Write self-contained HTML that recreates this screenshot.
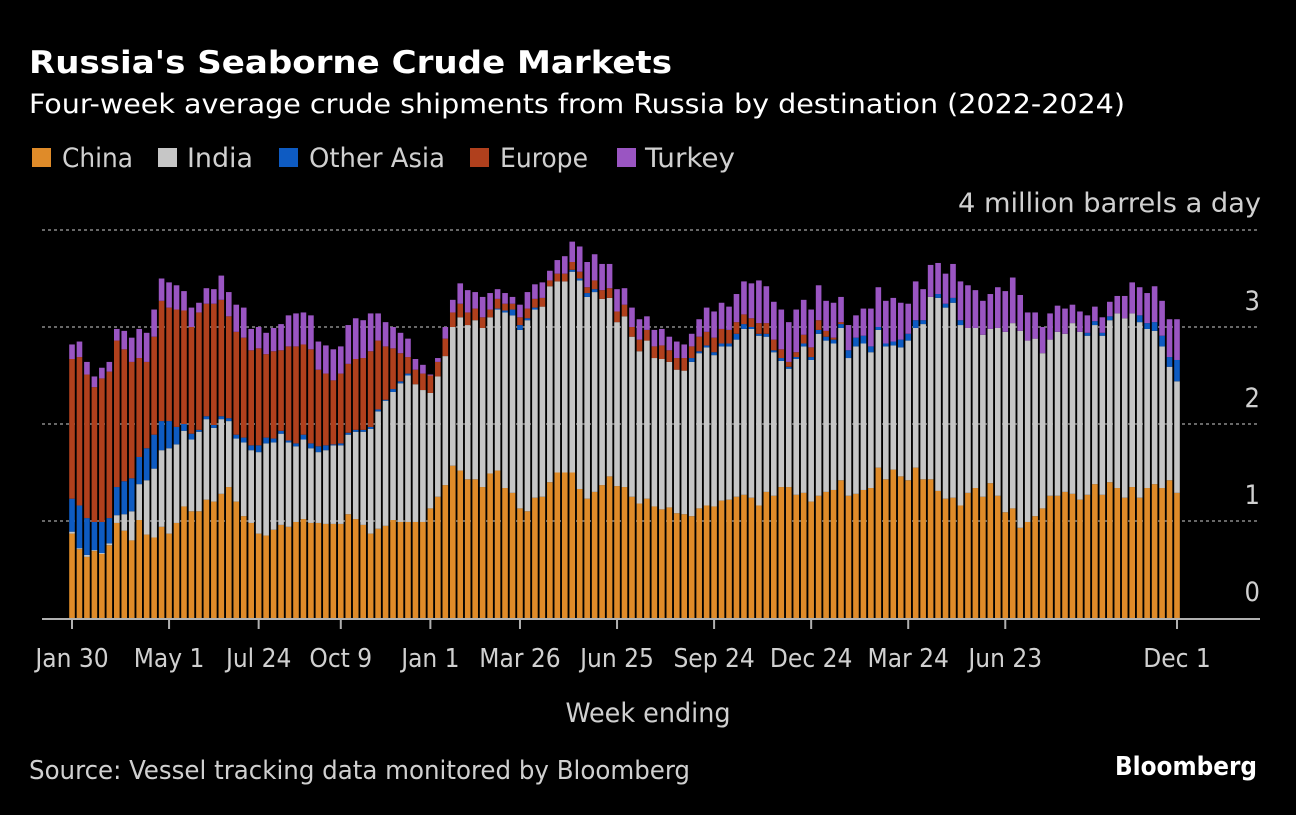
<!DOCTYPE html>
<html><head><meta charset="utf-8">
<style>
html,body{margin:0;padding:0;background:#000;}
body{width:1296px;height:810px;overflow:hidden;color:#fff;}
svg text{font-family:"DejaVu Sans Condensed","DejaVu Sans","Liberation Sans",sans-serif;font-stretch:condensed;}
</style></head>
<body>
<svg id="chart" width="1296" height="810" viewBox="0 0 1296 810">
<rect x="0" y="0" width="1296" height="810" fill="#000"/>
<text x="29" y="73" font-size="31" font-weight="bold" fill="#fff" textLength="643" lengthAdjust="spacingAndGlyphs">Russia's Seaborne Crude Markets</text>
<text x="29" y="113" font-size="27" fill="#fff" textLength="1096" lengthAdjust="spacingAndGlyphs">Four-week average crude shipments from Russia by destination (2022-2024)</text>
<g id="legend"></g>
<text x="1261" y="212" font-size="27" fill="#d0d0d0" text-anchor="end" textLength="303" lengthAdjust="spacingAndGlyphs">4 million barrels a day</text>
<g id="grid"></g>
<g id="bars"></g>
<g id="xaxis"></g>
<text x="648" y="722" font-size="27" fill="#d0d0d0" text-anchor="middle" textLength="165" lengthAdjust="spacingAndGlyphs">Week ending</text>
<text x="29" y="779" font-size="26" fill="#d0d0d0" textLength="661" lengthAdjust="spacingAndGlyphs">Source: Vessel tracking data monitored by Bloomberg</text>
<text x="1257" y="775" font-size="26" font-weight="bold" fill="#fff" text-anchor="end" textLength="142" lengthAdjust="spacingAndGlyphs">Bloomberg</text>
</svg>
<script>
const seriesNames = ["China","India","Other Asia","Europe","Turkey"];
const seriesColors = ["#df8b29","#c6c6c6","#0e5bc2","#b0401d","#9a55c2"];
const china = [0.87,0.71,0.63,0.69,0.66,0.75,0.98,0.90,0.80,1.01,0.86,0.83,0.94,0.87,0.98,1.15,1.10,1.10,1.22,1.20,1.28,1.35,1.20,1.05,0.98,0.87,0.85,0.91,0.96,0.94,0.99,1.02,0.98,0.98,0.97,0.97,0.97,1.07,1.02,0.96,0.87,0.92,0.95,1.01,0.99,0.99,0.99,0.99,1.13,1.25,1.37,1.57,1.52,1.43,1.43,1.35,1.49,1.52,1.34,1.29,1.13,1.10,1.24,1.25,1.40,1.50,1.50,1.50,1.33,1.23,1.30,1.37,1.46,1.36,1.35,1.25,1.18,1.23,1.15,1.12,1.14,1.08,1.07,1.05,1.13,1.16,1.15,1.21,1.22,1.25,1.27,1.24,1.16,1.30,1.26,1.35,1.35,1.27,1.29,1.20,1.26,1.30,1.32,1.42,1.26,1.28,1.32,1.34,1.55,1.43,1.53,1.46,1.42,1.55,1.43,1.43,1.31,1.23,1.24,1.16,1.29,1.34,1.25,1.39,1.26,1.09,1.13,0.93,0.99,1.05,1.13,1.26,1.26,1.30,1.28,1.22,1.27,1.38,1.27,1.40,1.34,1.24,1.35,1.24,1.34,1.38,1.34,1.42,1.29];
const india = [0.02,0.01,0.02,0.01,0.01,0.02,0.08,0.17,0.30,0.37,0.56,0.71,0.79,0.88,0.81,0.78,0.74,0.82,0.83,0.76,0.77,0.68,0.65,0.76,0.75,0.84,0.95,0.90,0.94,0.87,0.78,0.82,0.77,0.73,0.76,0.81,0.81,0.82,0.90,0.96,1.08,1.21,1.29,1.32,1.43,1.51,1.42,1.36,1.19,1.24,1.33,1.43,1.58,1.59,1.64,1.64,1.61,1.66,1.81,1.83,1.84,1.97,1.94,1.96,2.02,1.97,1.97,2.07,2.15,2.08,2.06,1.92,1.84,1.69,1.76,1.65,1.57,1.63,1.53,1.55,1.50,1.48,1.48,1.59,1.60,1.63,1.56,1.59,1.58,1.62,1.71,1.74,1.75,1.60,1.48,1.30,1.22,1.40,1.51,1.46,1.67,1.56,1.51,1.57,1.42,1.52,1.51,1.40,1.42,1.37,1.28,1.33,1.44,1.44,1.60,1.88,1.99,1.97,2.01,1.86,1.70,1.65,1.67,1.59,1.73,1.86,1.91,2.03,1.87,1.83,1.60,1.61,1.69,1.63,1.76,1.73,1.64,1.64,1.64,1.67,1.80,1.85,1.79,1.81,1.64,1.58,1.46,1.17,1.15];
const otherAsia = [0.34,0.44,0.38,0.29,0.32,0.26,0.29,0.34,0.34,0.28,0.33,0.35,0.30,0.28,0.18,0.07,0.06,0.02,0.03,0.03,0.03,0.03,0.04,0.05,0.05,0.07,0.06,0.04,0.03,0.02,0.03,0.05,0.05,0.06,0.05,0.01,0.02,0.02,0.02,0.02,0.02,0.02,0.01,0.03,0.02,0.02,0,0,0,0,0,0,0,0,0,0,0,0.01,0.02,0.06,0.05,0.02,0.02,0,0,0,0,0.02,0.02,0.04,0.03,0,0,0,0,0,0,0,0,0,0,0,0,0.04,0.02,0.02,0.03,0.03,0.03,0.06,0.05,0.02,0.02,0.03,0.02,0.03,0.02,0.02,0.03,0.03,0.04,0.04,0.04,0.04,0.08,0.09,0.08,0.06,0.03,0.03,0.04,0.08,0.07,0.08,0.04,0,0.04,0.04,0.05,0.05,0,0,0,0,0,0,0,0,0,0,0,0,0,0,0,0,0.03,0.04,0.03,0.04,0,0,0,0.07,0.06,0.09,0.11,0.10,0.22];
const europe = [1.44,1.53,1.48,1.39,1.48,1.51,1.51,1.36,1.20,1.02,0.89,1.01,1.24,1.17,1.21,1.17,1.10,1.21,1.16,1.25,1.20,1.05,1.06,1.03,0.98,1.00,0.86,0.90,0.83,0.97,1.00,0.93,0.97,0.79,0.74,0.66,0.72,0.71,0.73,0.74,0.78,0.71,0.55,0.42,0.29,0.17,0.15,0.17,0.18,0.15,0.18,0.15,0.14,0.13,0.12,0.11,0.08,0.10,0.07,0.06,0.08,0.10,0.09,0.09,0.06,0.08,0.08,0.08,0.07,0.06,0.09,0.09,0.10,0.11,0.12,0.10,0.12,0.11,0.12,0.14,0.12,0.12,0.13,0.12,0.15,0.14,0.15,0.15,0.14,0.12,0.10,0.09,0.11,0.11,0.11,0.09,0.05,0.05,0.09,0.10,0.10,0.06,0.02,0.02,0,0,0,0,0,0,0,0,0,0,0,0,0,0,0,0,0,0,0,0,0,0,0,0,0,0,0,0,0,0,0,0,0,0,0,0,0,0,0,0,0,0,0,0,0];
const turkey = [0.15,0.16,0.13,0.11,0.11,0.10,0.12,0.19,0.25,0.30,0.30,0.28,0.23,0.26,0.25,0.20,0.20,0.10,0.16,0.15,0.25,0.25,0.28,0.31,0.22,0.22,0.22,0.24,0.27,0.32,0.34,0.33,0.35,0.29,0.29,0.32,0.28,0.40,0.42,0.39,0.39,0.28,0.25,0.22,0.21,0.19,0.11,0.09,0.01,0.04,0.12,0.13,0.21,0.23,0.17,0.21,0.17,0.10,0.11,0.07,0.13,0.17,0.15,0.16,0.10,0.14,0.18,0.21,0.26,0.26,0.27,0.27,0.25,0.23,0.17,0.20,0.21,0.14,0.17,0.17,0.14,0.17,0.14,0.13,0.18,0.25,0.27,0.27,0.24,0.29,0.34,0.36,0.44,0.38,0.39,0.41,0.41,0.44,0.36,0.39,0.36,0.31,0.36,0.26,0.26,0.23,0.28,0.39,0.41,0.44,0.45,0.38,0.31,0.40,0.32,0.33,0.32,0.31,0.35,0.40,0.44,0.39,0.35,0.36,0.42,0.42,0.47,0.37,0.29,0.27,0.27,0.27,0.27,0.26,0.19,0.21,0.18,0.15,0.16,0.15,0.18,0.23,0.32,0.29,0.31,0.37,0.36,0.39,0.42];
const yTicks = [0,1,2,3,4];
const yTickLabels = ["0","1","2","3",""];
const xTickIndex = [0,13,25,36,48,60,73,86,99,112,125,148];
const xTickLabels = ["Jan 30","May 1","Jul 24","Oct 9","Jan 1","Mar 26","Jun 25","Sep 24","Dec 24","Mar 24","Jun 23","Dec 1"];

const NS = "http://www.w3.org/2000/svg";
const plotLeft = 42, plotRight = 1260, y0px = 618, pxPerUnit = 97;
const firstX = 72, lastX = 1177, barW = 5.6;
const nBars = china.length;
function yScale(v){ return y0px - v * pxPerUnit; }
function xScale(i){ return firstX + i * (lastX - firstX) / (nBars - 1); }
function mk(tag, attrs){ const e = document.createElementNS(NS, tag); for (const k in attrs) e.setAttribute(k, attrs[k]); return e; }

// legend layout
const legendSqX = [32, 158, 279, 470, 617];
const legendTxtX = [62, 187, 309, 500, 645];
const legendTxtW = [71, 66, 136, 88, 90];
const legend = document.getElementById('legend');
seriesNames.forEach((n, k) => {
  const g = mk('g', {});
  
  
  g.appendChild(mk('rect', {x: legendSqX[k], y: 148, width: 19, height: 19, fill: seriesColors[k]}));
  const t = mk('text', {x: legendTxtX[k], y: 167, 'font-size': 27, fill: '#d0d0d0', textLength: legendTxtW[k], lengthAdjust: 'spacingAndGlyphs'});
  t.textContent = n;
  g.appendChild(t);
  legend.appendChild(g);
});

// grid
const grid = document.getElementById('grid');
yTicks.forEach((v, k) => {
  const y = yScale(v);
  if (v > 0) {
    const l = mk('line', {x1: plotLeft, x2: plotRight, y1: y, y2: y, stroke: '#8a8a8a', 'stroke-width': 1.5, 'stroke-dasharray': '3,3'});
    
    
    grid.appendChild(l);
  }
  if (yTickLabels[k]) {
    const t = mk('text', {x: 1260, y: y - 17, 'font-size': 27, fill: '#d0d0d0', 'text-anchor': 'end'});
    
    
    t.textContent = yTickLabels[k];
    grid.appendChild(t);
  }
});

// bars
const barsG = document.getElementById('bars');
const series = [china, india, otherAsia, europe, turkey];
for (let i = 0; i < nBars; i++) {
  let cum = 0;
  const cx = xScale(i);
  series.forEach((arr, k) => {
    const v = arr[i];
    if (v <= 0) return;
    const yTop = yScale(cum + v), yBot = yScale(cum);
    const r = mk('rect', {x: (cx - barW/2).toFixed(2), y: yTop.toFixed(2), width: barW, height: (yBot - yTop).toFixed(2), fill: seriesColors[k]});
    
    
    barsG.appendChild(r);
    cum += v;
  });
}

// x axis
const xa = document.getElementById('xaxis');
const base = mk('line', {x1: plotLeft, x2: plotRight, y1: y0px + 1, y2: y0px + 1, stroke: '#b0b0b0', 'stroke-width': 2});


xa.appendChild(base);
xTickIndex.forEach((idx, k) => {
  const x = xScale(idx);
  const tk = mk('line', {x1: x, x2: x, y1: y0px, y2: y0px + 11, stroke: '#b0b0b0', 'stroke-width': 2});
  
  
  xa.appendChild(tk);
  const t = mk('text', {x: x, y: 667, 'font-size': 26, fill: '#d0d0d0', 'text-anchor': 'middle'});
  
  
  t.textContent = xTickLabels[k];
  xa.appendChild(t);
});
</script>
</body></html>
